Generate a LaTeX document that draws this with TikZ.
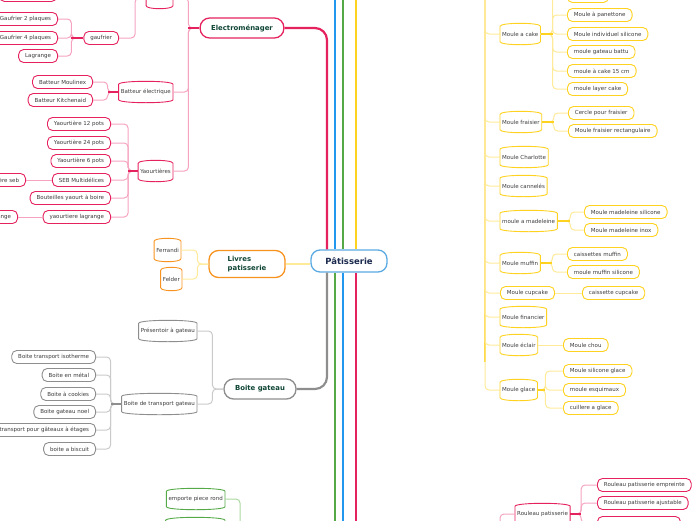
\documentclass[tikz,border=0pt]{standalone}
\usepackage{fontspec}
\setmainfont{DejaVu Sans}
\definecolor{rose}{HTML}{E5225E}
\definecolor{rosec}{HTML}{F5A3C0}
\definecolor{jaune}{HTML}{FFD21F}
\definecolor{jaunec}{HTML}{FFEA99}
\definecolor{orangeliv}{HTML}{F7931E}
\definecolor{gris}{HTML}{8E8E8E}
\definecolor{grisc}{HTML}{CACACA}
\definecolor{vert}{HTML}{55AA47}
\definecolor{vertc}{HTML}{AAD8A2}
\definecolor{bleu}{HTML}{2198EE}
\definecolor{bleuc}{HTML}{5BAAE2}
\definecolor{texte}{HTML}{3C3C3C}
\definecolor{titre}{HTML}{0F4535}
\definecolor{marine}{HTML}{1B2A4E}
\newcommand{\fpetit}{\fontsize{5.5}{6.5}\selectfont}
\newcommand{\fgras}{\fontsize{6.9}{8.2}\selectfont\bfseries}
\newcommand{\fracine}{\fontsize{8.5}{10}\selectfont\bfseries}
\tikzset{
  feuille/.style={draw=#1, line width=0.9pt, rounded corners=5pt, fill=white,
    minimum height=13pt, inner xsep=6.5pt, inner ysep=0pt, font=\fpetit, text=texte},
  bulle/.style={minimum height=21pt, inner xsep=2pt, inner ysep=0pt, font=\fpetit, text=texte,
    append after command={\pgfextra{\draw[#1, line width=0.9pt]
      ([yshift=-3pt]\tikzlastnode.north west) .. controls ([yshift=1pt]\tikzlastnode.north west) and ([yshift=1pt]\tikzlastnode.north east) .. ([yshift=-3pt]\tikzlastnode.north east)
      -- ([yshift=3pt]\tikzlastnode.south east) .. controls ([yshift=-1pt]\tikzlastnode.south east) and ([yshift=-1pt]\tikzlastnode.south west) .. ([yshift=3pt]\tikzlastnode.south west) -- cycle;}}},
  branche/.style={draw=#1, line width=1.3pt, rounded corners=9.5pt, fill=white,
    minimum height=20pt, inner xsep=11pt, font=\fgras, text=titre},
  racine/.style={draw=bleuc, line width=1.3pt, rounded corners=9pt, fill=white,
    minimum height=22pt, minimum width=76pt, font=\fracine, text=marine},
  lien/.style={#1, line width=1pt, rounded corners=4pt},
  tige/.style={#1, line width=1.8pt},
  tronc/.style={#1, line width=2.2pt, rounded corners=12pt},
}

\begin{document}
\begin{tikzpicture}[x=1pt,y=-1pt]
      \useasboundingbox (0,0) rectangle (696,520);
      % centre
      \node[racine] (centre) at (349,261) {Pâtisserie};
      \coordinate (bleuh) at (335,-5);
      \coordinate (verth) at (343,-5);
      \coordinate (jauneh) at (356,-5);
      \coordinate (vertb) at (335,525);
      \coordinate (bleub) at (343,525);
      \coordinate (roseb) at (356,525);

      % Electromenager
      \node[branche=rose] (electro) at (242,28) {Electroménager};
      \node[feuille=rose, anchor=east, minimum width=57pt] (hautg) at (57,-5) {};
      \node[bulle=rose, anchor=east] (gaufres) at (173,-2) {Gaufrier};
      \node[feuille=rose, anchor=east] (gaufrier) at (119,38) {gaufrier};
      \node[feuille=rose, anchor=east] (g2) at (58,19) {Gaufrier 2 plaques};
      \node[feuille=rose, anchor=east] (g4) at (58,38) {Gaufrier 4 plaques};
      \node[feuille=rose, anchor=east] (glag) at (58,56) {Lagrange};
      \node[bulle=rose, anchor=east] (batteur) at (173,92) {Batteur électrique};
      \node[feuille=rose, anchor=east] (moulinex) at (93,82) {Batteur Moulinex};
      \node[feuille=rose, anchor=east] (kitchen) at (93,100) {Batteur Kitchenaid};
      \node[bulle=rose, anchor=east] (yaourt) at (173,171) {Yaourtières};
      \node[feuille=rose, anchor=east] (y12) at (111,124) {Yaourtière 12 pots};
      \node[feuille=rose, anchor=east] (y24) at (111,143) {Yaourtière 24 pots};
      \node[feuille=rose, anchor=east] (y6) at (111,161) {Yaourtière 6 pots};
      \node[feuille=rose, anchor=east] (seb) at (111,180) {SEB Multidélices};
      \node[feuille=rose, anchor=east] (bouteilles) at (111,198) {Bouteilles yaourt à boire};
      \node[feuille=rose, anchor=east] (ylag) at (111,217) {yaourtiere lagrange};
      \node[feuille=rose, anchor=east] (yseb) at (26,180) {Yaourtière seb};
      \node[feuille=rose, anchor=east] (lag) at (18,217) {lagrange};

      % Livres
      \node[branche=orangeliv, align=left, minimum height=27pt, minimum width=76pt] (livres) at (247,264) {Livres\\patisserie};
      \node[bulle=orangeliv, anchor=east, minimum height=23pt] (ferrandi) at (181,250) {Ferrandi};
      \node[bulle=orangeliv, anchor=east, minimum height=23pt] (felder) at (182,279) {Felder};

      % Boite gateau
      \node[branche=gris] (boite) at (260,389) {Boite gateau};
      \node[bulle=gris, anchor=east] (presentoir) at (197,331) {Présentoir à gateau};
      \node[bulle=gris, anchor=east] (transport) at (197,404) {Boite de transport gateau};
      \node[feuille=gris, anchor=east] (isotherme) at (96,357) {Boite transport isotherme};
      \node[feuille=gris, anchor=east] (metal) at (96,375) {Boite en métal};
      \node[feuille=gris, anchor=east] (cookies) at (96,394) {Boite à cookies};
      \node[feuille=gris, anchor=east] (noel) at (96,412) {Boite gateau noel};
      \node[feuille=gris, anchor=east] (etages) at (96,430) {Boite transport pour gâteaux à étages};
      \node[feuille=gris, anchor=east] (biscuit) at (96,449) {boite a biscuit};

      % vert
      \coordinate (outils) at (240,535);
      \node[bulle=vert, anchor=east] (emporte) at (225,499) {emporte piece rond};
      \node[bulle=vert, anchor=east, minimum width=59pt] (emporte2) at (225,528) {};

      % moules
      \coordinate (moules) at (485,-5);
      \coordinate (finmoules) at (485,362);
      \node[bulle=jaune, anchor=west] (cake) at (500,34) {Moule a cake};
      \node[feuille=jaune, anchor=west, minimum width=41pt] (cakehaut) at (567,-4) {};
      \node[feuille=jaune, anchor=west] (panettone) at (567,15) {Moule à panettone};
      \node[feuille=jaune, anchor=west] (individuel) at (567,34) {Moule individuel silicone};
      \node[feuille=jaune, anchor=west] (battu) at (567,52) {moule gateau battu};
      \node[feuille=jaune, anchor=west] (cake15) at (567,71) {moule à cake 15 cm};
      \node[feuille=jaune, anchor=west] (layer) at (567,89) {moule layer cake};
      \node[bulle=jaune, anchor=west] (fraisier) at (500,122) {Moule fraisier};
      \node[feuille=jaune, anchor=west] (cercle) at (568,113) {Cercle pour fraisier};
      \node[feuille=jaune, anchor=west] (rectangle) at (568,131) {Moule fraisier rectangulaire};
      \node[bulle=jaune, anchor=west] (charlotte) at (500,157) {Moule Charlotte};
      \node[bulle=jaune, anchor=west] (canneles) at (500,186) {Moule cannelés};
      \node[bulle=jaune, anchor=west] (madeleine) at (500,221) {moule a madeleine};
      \node[feuille=jaune, anchor=west] (madsil) at (584,212) {Moule madeleine silicone};
      \node[feuille=jaune, anchor=west] (madinox) at (584,230) {Moule madeleine inox};
      \node[bulle=jaune, anchor=west] (muffin) at (500,263) {Moule muffin};
      \node[feuille=jaune, anchor=west] (caissettes) at (567,254) {caissettes muffin};
      \node[feuille=jaune, anchor=west] (muffsil) at (567,272) {moule muffin silicone};
      \node[feuille=jaune, anchor=west] (cupcake) at (500,293) {Moule cupcake};
      \node[feuille=jaune, anchor=west] (caissette) at (582,293) {caissette cupcake};
      \node[bulle=jaune, anchor=west] (financier) at (500,317) {Moule financier};
      \node[bulle=jaune, anchor=west] (eclair) at (500,345) {Moule éclair};
      \node[feuille=jaune, anchor=west] (chou) at (563,345) {Moule chou};
      \node[bulle=jaune, anchor=west] (glace) at (500,390) {Moule glace};
      \node[feuille=jaune, anchor=west] (glacesil) at (563,371) {Moule silicone glace};
      \node[feuille=jaune, anchor=west] (esquimaux) at (563,390) {moule esquimaux};
      \node[feuille=jaune, anchor=west] (cuillere) at (563,408) {cuillere a glace};

      % rouleau
      \coordinate (ustens) at (500,535);
      \node[bulle=rose, anchor=west] (rouleau) at (515,514) {Rouleau patisserie};
      \node[feuille=rose, anchor=west] (empreinte) at (597,485) {Rouleau patisserie empreinte};
      \node[feuille=rose, anchor=west] (ajustable) at (597,503) {Rouleau patisserie ajustable};
      \node[feuille=rose, anchor=west, minimum width=83pt] (rouleau3) at (597,523) {};

      % liens du centre
      \draw[tronc=rose] ([xshift=-22pt]centre.north) |- (electro.east);
      \draw[tronc=bleu] ([xshift=-14pt]centre.north) -- (bleuh);
      \draw[tronc=vert] ([xshift=-6pt]centre.north) -- (verth);
      \draw[tronc=jaune] ([xshift=7pt]centre.north) -- (jauneh);
      \draw[tronc=gris] ([xshift=-22pt]centre.south) |- (boite.east);
      \draw[tronc=vert] ([xshift=-14pt]centre.south) -- (vertb);
      \draw[tronc=bleu] ([xshift=-6pt]centre.south) -- (bleub);
      \draw[tronc=rose] ([xshift=7pt]centre.south) -- (roseb);
      \draw[lien=jaunec, line width=1.2pt] (livres.east) -- (livres.east -| centre.west);

      \draw[lien=rosec] (electro.west) -- ++(-11,0) |- (gaufres.east);
      \draw[lien=rosec] (electro.west) -- ++(-11,0) |- (batteur.east);
      \draw[lien=rosec] (electro.west) -- ++(-11,0) |- (yaourt.east);
      \draw[tige=rose] (electro.west) -- ++(-11,0);
      \draw[lien=rosec] (gaufres.west) -- ++(-11,0) |- (gaufrier.east);
      \draw[lien=rosec] (gaufrier.west) -- ++(-12,0) |- (g2.east);
      \draw[lien=rosec] (gaufrier.west) -- ++(-12,0) |- (g4.east);
      \draw[lien=rosec] (gaufrier.west) -- ++(-12,0) |- (glag.east);
      \draw[tige=rose] (gaufrier.west) -- ++(-12,0);
      \draw[lien=rosec] (batteur.west) -- ++(-11,0) |- (moulinex.east);
      \draw[lien=rosec] (batteur.west) -- ++(-11,0) |- (kitchen.east);
      \draw[tige=rose] (batteur.west) -- ++(-11,0);
      \draw[lien=rosec] (yaourt.west) -- ++(-10,0) |- (y12.east);
      \draw[lien=rosec] (yaourt.west) -- ++(-10,0) |- (y24.east);
      \draw[lien=rosec] (yaourt.west) -- ++(-10,0) |- (y6.east);
      \draw[lien=rosec] (yaourt.west) -- ++(-10,0) |- (seb.east);
      \draw[lien=rosec] (yaourt.west) -- ++(-10,0) |- (bouteilles.east);
      \draw[lien=rosec] (yaourt.west) -- ++(-10,0) |- (ylag.east);
      \draw[tige=rose] (yaourt.west) -- ++(-10,0);
      \draw[lien=rosec] (seb.west) -- (yseb.east);
      \draw[lien=rosec] (ylag.west) -- (lag.east);

      \draw[lien=jaunec] (livres.west) -- ++(-11,0) |- (ferrandi.east);
      \draw[lien=jaunec] (livres.west) -- ++(-11,0) |- (felder.east);

      \draw[lien=grisc] (boite.west) -- ++(-11,0) |- (presentoir.east);
      \draw[lien=grisc] (boite.west) -- ++(-11,0) |- (transport.east);
      \draw[lien=grisc] (transport.west) -- ++(-11,0) |- (isotherme.east);
      \draw[lien=grisc] (transport.west) -- ++(-11,0) |- (metal.east);
      \draw[lien=grisc] (transport.west) -- ++(-11,0) |- (cookies.east);
      \draw[lien=grisc] (transport.west) -- ++(-11,0) |- (noel.east);
      \draw[lien=grisc] (transport.west) -- ++(-11,0) |- (etages.east);
      \draw[lien=grisc] (transport.west) -- ++(-11,0) |- (biscuit.east);
      \draw[tige=gris] (transport.west) -- ++(-11,0);

      \draw[lien=vertc] (outils) |- (emporte.east);
      \draw[lien=vertc] (outils) |- (emporte2.east);

      \draw[tige=jaune] (moules) -- (finmoules);
      \draw[lien=jaunec] (moules) |- (cake.west);
      \draw[lien=jaunec] (moules) |- (fraisier.west);
      \draw[lien=jaunec] (moules) |- (charlotte.west);
      \draw[lien=jaunec] (moules) |- (canneles.west);
      \draw[lien=jaunec] (moules) |- (madeleine.west);
      \draw[lien=jaunec] (moules) |- (muffin.west);
      \draw[lien=jaunec] (moules) |- (cupcake.west);
      \draw[lien=jaunec] (moules) |- (financier.west);
      \draw[lien=jaunec] (moules) |- (eclair.west);
      \draw[lien=jaunec] (moules) |- (glace.west);
      \draw[lien=jaunec] (cake.east) -- ++(12,0) |- (cakehaut.west);
      \draw[lien=jaunec] (cake.east) -- ++(12,0) |- (panettone.west);
      \draw[lien=jaunec] (cake.east) -- ++(12,0) |- (individuel.west);
      \draw[lien=jaunec] (cake.east) -- ++(12,0) |- (battu.west);
      \draw[lien=jaunec] (cake.east) -- ++(12,0) |- (cake15.west);
      \draw[lien=jaunec] (cake.east) -- ++(12,0) |- (layer.west);
      \draw[tige=jaune] (cake.east) -- ++(12,0);
      \draw[lien=jaunec] (fraisier.east) -- ++(12,0) |- (cercle.west);
      \draw[lien=jaunec] (fraisier.east) -- ++(12,0) |- (rectangle.west);
      \draw[tige=jaune] (fraisier.east) -- ++(12,0);
      \draw[lien=jaunec] (madeleine.east) -- ++(13,0) |- (madsil.west);
      \draw[lien=jaunec] (madeleine.east) -- ++(13,0) |- (madinox.west);
      \draw[tige=jaune] (madeleine.east) -- ++(13,0);
      \draw[lien=jaunec] (muffin.east) -- ++(12,0) |- (caissettes.west);
      \draw[lien=jaunec] (muffin.east) -- ++(12,0) |- (muffsil.west);
      \draw[tige=jaune] (muffin.east) -- ++(12,0);
      \draw[lien=jaunec] (cupcake.east) -- (caissette.west);
      \draw[lien=jaunec] (eclair.east) -- (chou.west);
      \draw[lien=jaunec] (glace.east) -- ++(8,0) |- (glacesil.west);
      \draw[lien=jaunec] (glace.east) -- ++(8,0) |- (esquimaux.west);
      \draw[lien=jaunec] (glace.east) -- ++(8,0) |- (cuillere.west);
      \draw[tige=jaune] (glace.east) -- ++(8,0);

      \draw[lien=rosec] (ustens) |- (rouleau.west);
      \draw[lien=rosec] (rouleau.east) -- ++(11,0) |- (empreinte.west);
      \draw[lien=rosec] (rouleau.east) -- ++(11,0) |- (ajustable.west);
      \draw[lien=rosec] (rouleau.east) -- ++(11,0) |- (rouleau3.west);
      \draw[tige=rose] (rouleau.east) -- ++(11,0);
\end{tikzpicture}
\end{document}
